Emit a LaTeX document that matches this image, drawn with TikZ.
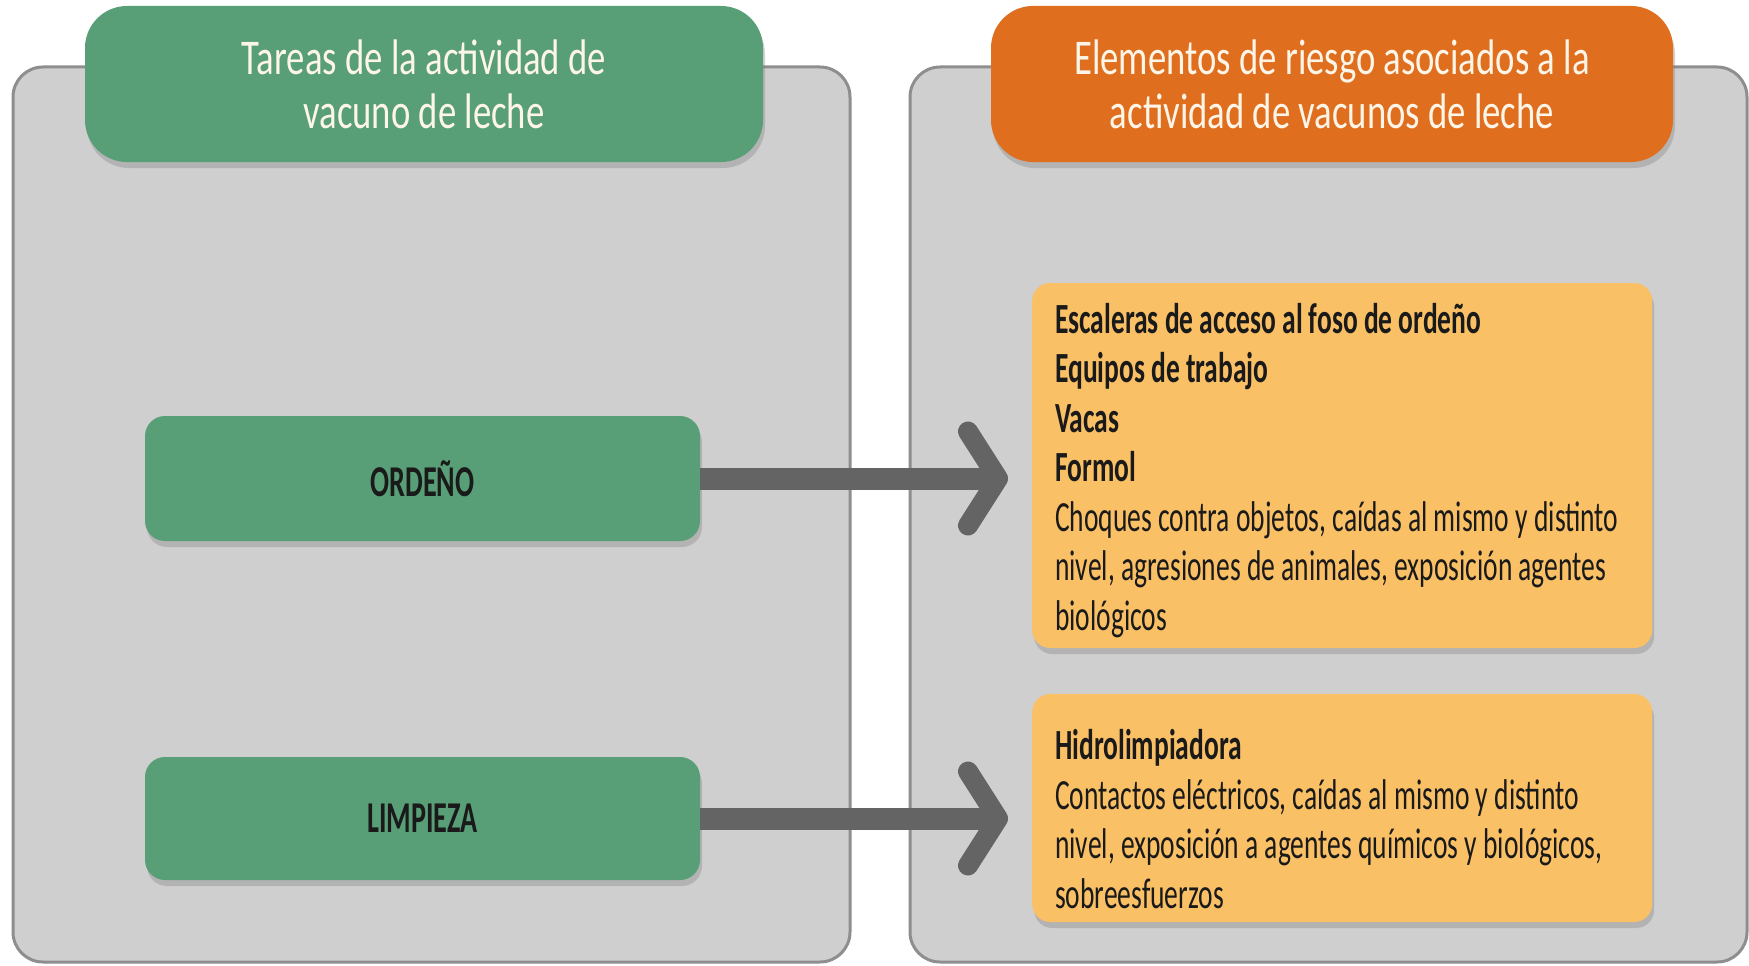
\documentclass[tikz,border=0pt]{standalone}
\usepackage{fontspec}
\setmainfont{Carlito}[FakeStretch=0.64]
\newfontfamily\titlefont{Carlito}[FakeStretch=0.734]
\usetikzlibrary{arrows.meta,shadows}

\definecolor{panelgray}{HTML}{CFCFCF}
\definecolor{panelborder}{HTML}{8E8E8E}
\definecolor{taskgreen}{HTML}{589E77}
\definecolor{riskorange}{HTML}{DF6E1F}
\definecolor{risklight}{HTML}{F9C066}
\definecolor{titlecream}{HTML}{FDF6E8}
\definecolor{arrowgray}{HTML}{646464}
\definecolor{textdark}{HTML}{1A1A1A}

\newcommand{\riskline}[1]{\makebox[574pt][l]{#1}}

\begin{document}
\begin{tikzpicture}[x=1pt,y=-1pt]
\tikzstyle{panel}=[draw=panelborder, line width=3pt, fill=panelgray, rounded corners=30pt, minimum width=837pt, minimum height=895pt]
\tikzstyle{header}=[rounded corners=42pt, minimum height=156pt, align=center, text=titlecream, font=\titlefont\fontsize{50}{54}\selectfont, drop shadow={shadow xshift=2pt, shadow yshift=-6pt, opacity=.35}]
\tikzstyle{task}=[fill=taskgreen, rounded corners=20pt, minimum width=555pt, text=textdark, font=\fontsize{44}{49.5}\selectfont\bfseries, drop shadow={shadow xshift=2pt, shadow yshift=-6pt, opacity=.35}]
\tikzstyle{risk}=[fill=risklight, rounded corners=18pt, minimum width=620pt, inner xsep=23pt, inner ysep=5pt, align=left, text=textdark, font=\fontsize{43}{49.5}\selectfont, drop shadow={shadow xshift=2pt, shadow yshift=-6pt, opacity=.35}]
\tikzstyle{riskarrow}=[draw=arrowgray, line width=22pt, -{Straight Barb[length=30pt, width=94pt, line width=20pt, round]}, shorten >=24pt]

\useasboundingbox[fill=white] (0,0) rectangle (1749,966);

\node[panel] (lpanel) at (431.5,514.5) {};
\node[panel] (rpanel) at (1328.5,514.5) {};

\node[header, fill=taskgreen, minimum width=678pt] (ltitle) at (424,84) {Tareas de la actividad de\\vacuno de leche};
\node[header, fill=riskorange, minimum width=682pt] (rtitle) at (1332,84) {Elementos de riesgo asociados a la\\actividad de vacunos de leche};

\node[task, minimum height=125pt] (ordeno) at (422.5,478.5) {ORDEÑO};
\node[task, minimum height=123pt] (limpieza) at (422.5,818.5) {LIMPIEZA};

\node[risk, minimum height=365pt, anchor=west] (risk1) at (1032,465.5) {\riskline{\rule{0pt}{40pt}\textbf{Escaleras de acceso al foso de ordeño}}\\\textbf{Equipos de trabajo}\\\textbf{Vacas}\\\textbf{Formol}\\Choques contra objetos, caídas al mismo y distinto\\nivel, agresiones de animales, exposición agentes\\biológicos};
\node[risk, minimum height=228pt, anchor=west] (risk2) at (1032,808) {\riskline{\rule{0pt}{52pt}\textbf{Hidrolimpiadora}}\\Contactos eléctricos, caídas al mismo y distinto\\nivel, exposición a agentes químicos y biológicos,\\sobreesfuerzos};

\draw[riskarrow] (ordeno.east) -- (ordeno.east -| risk1.west);
\draw[riskarrow] (limpieza.east) -- (limpieza.east -| risk2.west);
\end{tikzpicture}
\end{document}
